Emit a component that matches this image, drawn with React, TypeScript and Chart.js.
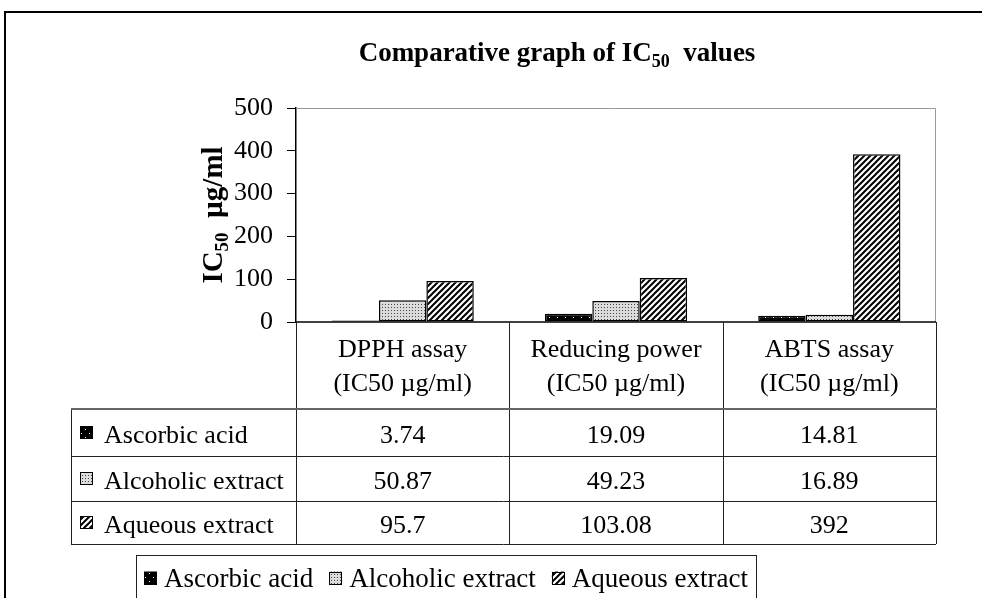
import React, { useEffect, useRef } from 'react';
import { Chart, registerables } from 'chart.js';

Chart.register(...registerables);

// ---- data ----
const CATEGORIES = ['DPPH assay', 'Reducing power', 'ABTS assay'];
const CATEGORY_UNITS = ['(IC50 µg/ml)', '(IC50 µg/ml)', '(IC50 µg/ml)'];
const SERIES_NAMES = ['Ascorbic acid', 'Alcoholic extract', 'Aqueous extract'];
const ASCORBIC = [3.74, 19.09, 14.81];
const ALCOHOLIC = [50.87, 49.23, 16.89];
const AQUEOUS = [95.7, 103.08, 392];
const Y_MIN = 0;
const Y_MAX = 500;
const Y_STEP = 100;
const TITLE_MAIN = 'Comparative graph of IC';
const TITLE_SUB = '50';
const TITLE_END = '  values';
const Y_TITLE_MAIN = 'IC';
const Y_TITLE_SUB = '50';
const Y_TITLE_END = '  µg/ml';

const SERIES = [ASCORBIC, ALCOHOLIC, AQUEOUS];

const FONT = '"Liberation Serif", "Times New Roman", serif';
const W = 982;
const H = 598;

function makePattern(kind: number): CanvasPattern | string {
  const c = document.createElement('canvas');
  if (kind === 0) {
    c.width = 8; c.height = 8;
    const g = c.getContext('2d')!;
    g.fillStyle = '#000'; g.fillRect(0, 0, 8, 8);
    g.fillStyle = '#fff'; g.fillRect(1, 1, 1, 1); g.fillRect(5, 5, 1, 1);
    return g.createPattern(c, 'repeat') || '#000';
  }
  if (kind === 1) {
    c.width = 3; c.height = 3;
    const g = c.getContext('2d')!;
    g.fillStyle = '#dcdcdc'; g.fillRect(0, 0, 3, 3);
    g.fillStyle = '#444'; g.fillRect(1, 1, 1, 1);
    return g.createPattern(c, 'repeat') || '#ccc';
  }
  c.width = 6; c.height = 6;
  const g = c.getContext('2d')!;
  g.fillStyle = '#fff'; g.fillRect(0, 0, 6, 6);
  g.strokeStyle = '#000'; g.lineWidth = 2;
  g.beginPath();
  g.moveTo(0, 6); g.lineTo(6, 0);
  g.moveTo(-1, 1); g.lineTo(1, -1);
  g.moveTo(5, 7); g.lineTo(7, 5);
  g.stroke();
  return g.createPattern(c, 'repeat') || '#888';
}

export default function App() {
  const ref = useRef<HTMLCanvasElement | null>(null);

  useEffect(() => {
    if (!ref.current) return;
    const patterns = [0, 1, 2].map(makePattern);

    const drawMarker = (ctx: CanvasRenderingContext2D, i: number, x: number, yMid: number) => {
      const s = 13;
      ctx.save();
      ctx.fillStyle = patterns[i] as any;
      ctx.fillRect(x, yMid - s / 2, s, s);
      ctx.strokeStyle = '#000';
      ctx.lineWidth = 1;
      ctx.strokeRect(Math.round(x) + 0.5, Math.round(yMid - s / 2) + 0.5, s - 1, s - 1);
      ctx.restore();
    };

    const drawSubText = (ctx: CanvasRenderingContext2D, main: string, sub: string, end: string,
      x: number, y: number, mainFont: string, subFont: string, subShift: number, center: boolean) => {
      ctx.font = mainFont;
      const w1 = ctx.measureText(main).width;
      const w3 = ctx.measureText(end).width;
      ctx.font = subFont;
      const w2 = ctx.measureText(sub).width;
      const total = w1 + w2 + w3;
      const x0 = center ? x - total / 2 : x;
      ctx.textAlign = 'left';
      ctx.textBaseline = 'alphabetic';
      ctx.font = mainFont;
      ctx.fillText(main, x0, y);
      ctx.font = subFont;
      ctx.fillText(sub, x0 + w1, y + subShift);
      ctx.font = mainFont;
      ctx.fillText(end, x0 + w1 + w2, y);
    };

    const decor = {
      id: 'decor',
      afterDraw(chart: any) {
        const ctx: CanvasRenderingContext2D = chart.ctx;
        const area = chart.chartArea;
        const xs = chart.scales.x;
        ctx.save();
        ctx.fillStyle = '#000';

        // outer border
        ctx.strokeStyle = '#000';
        ctx.lineWidth = 2;
        ctx.beginPath();
        ctx.moveTo(5, H + 2);
        ctx.lineTo(5, 12);
        ctx.lineTo(W + 2, 12);
        ctx.stroke();

        // plot frame (gray top/right), black baseline
        ctx.strokeStyle = '#999';
        ctx.lineWidth = 1;
        ctx.beginPath();
        ctx.moveTo(area.left, area.top + 0.5);
        ctx.lineTo(area.right - 0.5, area.top + 0.5);
        ctx.lineTo(area.right - 0.5, area.bottom);
        ctx.stroke();
        ctx.strokeStyle = '#000';
        ctx.lineWidth = 1.5;
        ctx.beginPath();
        ctx.moveTo(area.left, area.bottom);
        ctx.lineTo(area.right, area.bottom);
        ctx.stroke();

        // title
        drawSubText(ctx, TITLE_MAIN, TITLE_SUB, TITLE_END, 557, 61,
          `bold 27px ${FONT}`, `bold 18px ${FONT}`, 6, true);

        // y title
        ctx.save();
        ctx.translate(222, 215);
        ctx.rotate(-Math.PI / 2);
        drawSubText(ctx, Y_TITLE_MAIN, Y_TITLE_SUB, Y_TITLE_END, 0, 0,
          `bold 29px ${FONT}`, `bold 19px ${FONT}`, 6, true);
        ctx.restore();

        // data table
        const n = CATEGORIES.length;
        const colW = (xs.right - xs.left) / n;
        const tableLeft = 71;
        const headerBottom = 409;
        const rowBounds = [409, 456, 501, 544];
        ctx.strokeStyle = '#222';
        ctx.lineWidth = 1;
        ctx.beginPath();
        for (let i = 0; i <= n; i++) {
          const bx = Math.round(xs.left + i * colW) + 0.5;
          ctx.moveTo(bx, area.bottom);
          ctx.lineTo(bx, rowBounds[rowBounds.length - 1]);
        }
        ctx.moveTo(tableLeft + 0.5, headerBottom);
        ctx.lineTo(tableLeft + 0.5, rowBounds[rowBounds.length - 1]);
        for (let r = 1; r < rowBounds.length; r++) {
          ctx.moveTo(tableLeft, rowBounds[r] + 0.5);
          ctx.lineTo(xs.right, rowBounds[r] + 0.5);
        }
        ctx.stroke();
        ctx.strokeStyle = '#666';
        ctx.lineWidth = 2;
        ctx.beginPath();
        ctx.moveTo(tableLeft, headerBottom);
        ctx.lineTo(xs.right + 1, headerBottom);
        ctx.stroke();

        ctx.fillStyle = '#000';
        ctx.font = `26px ${FONT}`;
        ctx.textAlign = 'center';
        ctx.textBaseline = 'alphabetic';
        for (let i = 0; i < n; i++) {
          const cx = xs.getPixelForValue(i);
          ctx.fillText(CATEGORIES[i], cx, 357);
          ctx.fillText(CATEGORY_UNITS[i], cx, 391);
        }
        for (let s = 0; s < SERIES.length; s++) {
          const yMid = (rowBounds[s] + rowBounds[s + 1]) / 2;
          const base = yMid + 10;
          drawMarker(ctx, s, 80, yMid);
          ctx.textAlign = 'left';
          ctx.fillText(SERIES_NAMES[s], 104, base);
          ctx.textAlign = 'center';
          for (let i = 0; i < n; i++) {
            ctx.fillText(String(SERIES[s][i]), xs.getPixelForValue(i), base);
          }
        }

        // legend
        ctx.font = `27px ${FONT}`;
        const widths = SERIES_NAMES.map((t) => ctx.measureText(t).width);
        const gap = 16;
        const inner = widths.reduce((a, b) => a + b, 0) + SERIES_NAMES.length * 20 + (SERIES_NAMES.length - 1) * gap;
        const lw = Math.round(inner + 16);
        const lx = 136;
        const ly = 555;
        ctx.strokeStyle = '#222';
        ctx.lineWidth = 1;
        ctx.strokeRect(lx + 0.5, ly + 0.5, lw, H + 10 - ly);
        ctx.textAlign = 'left';
        let x = lx + 8;
        for (let s = 0; s < SERIES_NAMES.length; s++) {
          drawMarker(ctx, s, x, 578);
          ctx.fillText(SERIES_NAMES[s], x + 20, 587);
          x += 20 + widths[s] + gap;
        }
        ctx.restore();
      },
    };

    const chart = new Chart(ref.current, {
      type: 'bar',
      data: {
        labels: CATEGORIES,
        datasets: SERIES.map((vals, i) => ({
          label: SERIES_NAMES[i],
          data: vals,
          backgroundColor: patterns[i] as any,
          borderColor: '#000',
          borderWidth: 1.5,
          borderSkipped: false,
          categoryPercentage: 1 / 1.5,
          barPercentage: 1,
        })),
      },
      options: {
        responsive: false,
        animation: false,
        events: [],
        layout: { padding: { top: 108, right: W - 936, bottom: H - 322, left: 0 } },
        plugins: {
          legend: { display: false },
          title: { display: false },
          tooltip: { enabled: false },
        },
        scales: {
          x: { display: false, offset: true },
          y: {
            min: Y_MIN,
            max: Y_MAX,
            ticks: {
              stepSize: Y_STEP,
              color: '#000',
              padding: 14,
              font: { family: FONT, size: 26 },
            },
            grid: { drawOnChartArea: false, tickLength: 9, color: '#000', tickColor: '#000' },
            border: { color: '#000', width: 1.5 },
            afterFit: (s: any) => { s.width = 296; },
          },
        },
      },
      plugins: [decor],
    });
    return () => chart.destroy();
  }, []);

  return (
    <div style={{ position: 'fixed', left: 0, top: 0, width: W, height: H, background: '#fff' }}>
      <canvas ref={ref} width={W} height={H} style={{ width: W, height: H, display: 'block' }} />
    </div>
  );
}
